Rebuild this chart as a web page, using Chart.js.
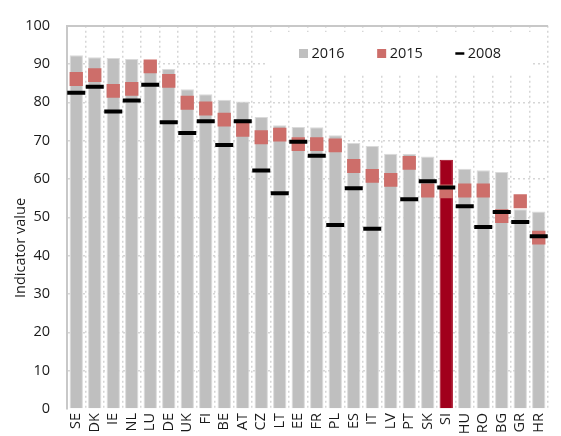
<!DOCTYPE html>
<html>
<head>
<meta charset="utf-8">
<script src="https://cdn.jsdelivr.net/npm/chart.js@4/dist/chart.umd.min.js"></script>
<style>
  html, body { margin: 0; padding: 0; background: #fff; }
  #wrap { width: 561px; height: 436px; }
</style>
</head>
<body>
<div id="wrap"><canvas id="chart" width="561" height="436"></canvas></div>
<script>
const countries = ["SE", "DK", "IE", "NL", "LU", "DE", "UK", "FI", "BE", "AT", "CZ", "LT", "EE",
  "FR", "PL", "ES", "IT", "LV", "PT", "SK", "SI", "HU", "RO", "BG", "GR", "HR"];
const values2016 = [92.3, 91.8, 91.6, 91.3, 90.5, 88.7, 83.4, 82.1, 80.7, 80.2, 76.2, 74.0, 73.6,
  73.5, 71.4, 69.4, 68.6, 66.6, 66.5, 65.9, 65.0, 62.7, 62.3, 61.8, 52.1, 51.5];
const values2015 = [86.1, 87.1, 83.0, 83.5, 89.4, 85.6, 79.9, 78.4, 75.5, 72.8, 70.9, 71.6, 69.1,
  69.1, 68.8, 63.4, 60.8, 59.8, 64.2, 57.0, 56.8, 57.0, 57.0, 50.3, 54.2, 44.7];
const values2008 = [82.5, 84.1, 77.6, 80.5, 84.6, 74.8, 72.0, 75.1, 68.9, 75.1, 62.2, 56.3, 69.7,
  66.1, 48.0, 57.6, 47.0, null, 54.7, 59.4, 57.8, 52.9, 47.5, 51.4, 48.8, 45.1];
const yTicks = [0, 10, 20, 30, 40, 50, 60, 70, 80, 90, 100];
const highlight = "SI";

const FONT = '"Open Sans", "Noto Sans", sans-serif';
const TEXT = "#1a1a1a";
const GREY = "#bfbfbf";
const RED15 = "#cd6e6a";
const DARKRED = "#a1001c";
const BOX_HALF = 1.8; // half height of the 2015 marker box, in axis units

// legend sits inside the plot on a white patch, plus the y title
const insideLegend = {
  id: "insideLegend",
  afterDraw(chart) {
    const ctx = chart.ctx;
    ctx.save();
    ctx.fillStyle = "#fff";
    ctx.fillRect(266, 32, 265, 41);
    ctx.font = "14.5px " + FONT;
    ctx.textBaseline = "middle";
    ctx.textAlign = "left";
    const y = 53.5;
    let x = 299;
    chart.data.datasets.forEach(ds => {
      if (ds.type === "line") {
        ctx.fillStyle = "#000";
        ctx.fillRect(x, y - 1.25, 9, 2.5);
      } else {
        ctx.fillStyle = ds.legendColor;
        ctx.fillRect(x, y - 4.5, 9, 9);
      }
      x += 12.5;
      ctx.fillStyle = TEXT;
      ctx.fillText(ds.label, x, y + 0.5);
      x += ctx.measureText(ds.label).width + 32.5;
    });

    // axis title
    ctx.translate(21, 248);
    ctx.rotate(-Math.PI / 2);
    ctx.textAlign = "center";
    ctx.fillText("Indicator value", 0, 0);
    ctx.restore();
  }
};

new Chart(document.getElementById("chart"), {
  type: "bar",
  data: {
    labels: countries,
    datasets: [
      {
        label: "2016",
        data: values2016,
        legendColor: GREY,
        backgroundColor: countries.map(c => c === highlight ? DARKRED : GREY),
        borderColor: countries.map(c => c === highlight ? DARKRED : "#dadada"),
        borderWidth: 1,
        borderSkipped: "bottom",
        barPercentage: 0.72,
        categoryPercentage: 1,
        grouped: false,
        order: 3
      },
      {
        label: "2015",
        data: values2015.map(v => [v - BOX_HALF, v + BOX_HALF]),
        legendColor: RED15,
        backgroundColor: RED15,
        borderWidth: 0,
        barPercentage: 0.72,
        categoryPercentage: 1,
        grouped: false,
        order: 2
      },
      {
        type: "line",
        label: "2008",
        data: values2008,
        showLine: false,
        pointStyle: "line",
        pointRadius: 9,
        pointHoverRadius: 9,
        pointBorderWidth: 4,
        pointHoverBorderWidth: 4,
        borderColor: "#000",
        backgroundColor: "#000",
        order: 1
      }
    ]
  },
  options: {
    responsive: false,
    animation: false,
    events: [],
    layout: { padding: { top: 21, right: 0, left: 0, bottom: 0 } },
    plugins: {
      legend: { display: false },
      tooltip: { enabled: false }
    },
    scales: {
      x: {
        offset: true,
        border: { display: false, dash: [2, 3] },
        grid: { color: "#d6d6d6", lineWidth: 1.5, offset: true, drawTicks: false },
        ticks: {
          color: TEXT,
          font: { family: FONT, size: 14.5 },
          minRotation: 90,
          maxRotation: 90,
          padding: 4,
          autoSkip: false
        },
        afterFit: s => { s.height = 27; }
      },
      y: {
        min: 0,
        max: 100,
        afterBuildTicks: s => { s.ticks = yTicks.map(v => ({ value: v })); },
        border: {
          display: true,
          color: "#c8c8c8",
          width: 2,
          dash: c => (c.tick && c.tick.value === 100) ? [] : [2, 3]
        },
        grid: {
          drawTicks: false,
          color: c => c.tick.value === 100 ? "#c8c8c8" : (c.tick.value === 0 ? "rgba(0,0,0,0)" : "#d6d6d6"),
          lineWidth: c => c.tick.value === 100 ? 2 : 1.5
        },
        ticks: {
          color: TEXT,
          font: { family: FONT, size: 14.5 },
          padding: 17
        },
        afterFit: s => { s.width = 67; }
      }
    }
  },
  plugins: [insideLegend]
});
</script>
</body>
</html>
